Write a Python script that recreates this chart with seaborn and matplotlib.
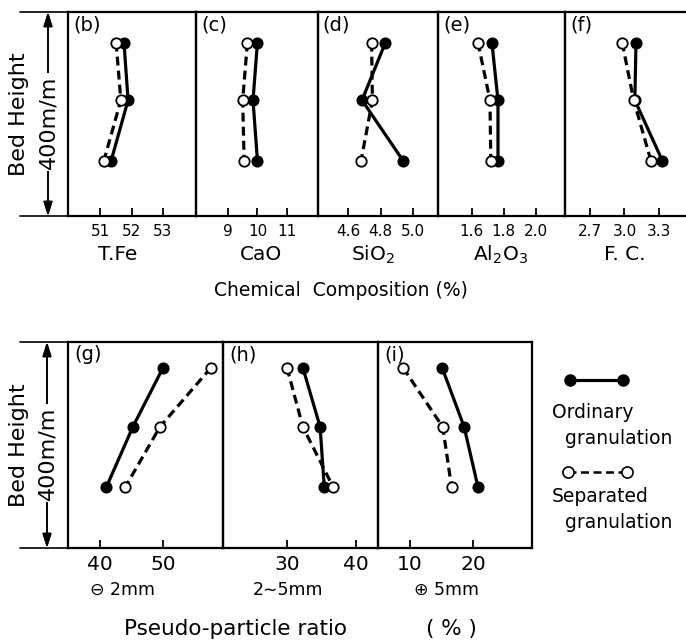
import numpy as np
import pandas as pd
import matplotlib
matplotlib.use("Agg")
import matplotlib.pyplot as plt
from matplotlib.lines import Line2D
import seaborn as sns

# ---------------- data ----------------
heights_top = [340, 227, 108]      # bed height (mm) of sampling points, upper row
heights_bot = [350, 235, 118]      # bed height (mm) of sampling points, lower row

tfe_ord = [51.76, 51.89, 51.35]
tfe_sep = [51.51, 51.66, 51.12]
cao_ord = [10.0, 9.85, 10.0]
cao_sep = [9.66, 9.50, 9.55]
sio2_ord = [4.83, 4.686, 4.94]
sio2_sep = [4.745, 4.75, 4.68]
al2o3_ord = [1.727, 1.765, 1.765]
al2o3_sep = [1.64, 1.715, 1.72]
fc_ord = [3.10, 3.09, 3.33]
fc_sep = [2.98, 3.08, 3.23]

m2_ord = [50.0, 45.2, 41.0]
m2_sep = [57.6, 49.5, 44.0]
m25_ord = [32.3, 34.8, 35.4]
m25_sep = [30.0, 32.3, 36.7]
p5_ord = [15.1, 18.6, 20.8]
p5_sep = [8.9, 15.2, 16.6]

top_letters = ["(b)", "(c)", "(d)", "(e)", "(f)"]
top_names = ["T.Fe", "CaO", "SiO$_2$", "Al$_2$O$_3$", "F. C."]
top_ticks = [[51, 52, 53], [9, 10, 11], [4.6, 4.8, 5.0], [1.6, 1.8, 2.0], [2.7, 3.0, 3.3]]
top_ticklabels = [["51", "52", "53"], ["9", "10", "11"], ["4.6", "4.8", "5.0"],
                  ["1.6", "1.8", "2.0"], ["2.7", "3.0", "3.3"]]
bot_letters = ["(g)", "(h)", "(i)"]
bot_names = ["⊖ 2mm", "2∼5mm", "⊕ 5mm"]
bot_ticks = [[40, 50], [30, 40], [10, 20]]
bot_ticklabels = [["40", "50"], ["30", "40"], ["10", "20"]]

top_ord = [tfe_ord, cao_ord, sio2_ord, al2o3_ord, fc_ord]
top_sep = [tfe_sep, cao_sep, sio2_sep, al2o3_sep, fc_sep]
bot_ord = [m2_ord, m25_ord, p5_ord]
bot_sep = [m2_sep, m25_sep, p5_sep]

# ---------------- style ----------------
sns.set_theme(style="white")
plt.rcParams["font.family"] = ["DejaVu Sans"]
plt.rcParams["mathtext.fontset"] = "dejavusans"
plt.rcParams["text.color"] = "black"
plt.rcParams["axes.labelcolor"] = "black"
plt.rcParams["xtick.color"] = "black"
plt.rcParams["ytick.color"] = "black"

W, H = 686, 644
fig = plt.figure(figsize=(W / 100, H / 100), dpi=100)
fig.patch.set_facecolor("white")


def fx(px):
    return px / W


def fy(py):
    return 1 - py / H


def make_ax(L, R, T, B):
    return fig.add_axes([fx(L), fy(B), fx(R) - fx(L), (B - T) / H])


top_edges = [68, 196, 318, 438, 565, 688]
top_xlims = [(49.98, 54.05), (7.92, 12.05), (4.415, 5.154), (1.39, 2.184), (2.483, 3.552)]
bot_edges = [68, 223, 378, 532]
bot_xlims = [(34.92, 59.52), (20.72, 43.19), (4.92, 29.37)]


def draw_panel(ax, xo, xs, hts, xlim, ticks, ticklabels, letter, tick_fs, pad):
    df_o = pd.DataFrame({"val": xo, "h": hts})
    df_s = pd.DataFrame({"val": xs, "h": hts})
    sns.lineplot(data=df_o, x="val", y="h", sort=False, estimator=None, ax=ax,
                 color="black", lw=2.3, marker="o", markersize=7.5,
                 markerfacecolor="black", markeredgecolor="black", markeredgewidth=1.2)
    sns.lineplot(data=df_s, x="val", y="h", sort=False, estimator=None, ax=ax,
                 color="black", lw=2.3, marker="o", markersize=7.5,
                 markerfacecolor="white", markeredgecolor="black", markeredgewidth=1.3)
    ax.lines[-1].set_dashes([2.8, 1.6])
    ax.set_xlim(*xlim)
    ax.set_ylim(0, 400)
    ax.set_xlabel("")
    ax.set_ylabel("")
    ax.set_yticks([])
    ax.set_xticks(ticks)
    ax.set_xticklabels(ticklabels)
    ax.tick_params(axis="x", direction="in", length=6, width=1.3, pad=pad,
                   labelsize=tick_fs, colors="black", bottom=True)
    for s in ax.spines.values():
        s.set_linewidth(1.6)
        s.set_color("black")
    ax.text(0.04, 0.985, letter, transform=ax.transAxes, ha="left", va="top",
            fontsize=14, color="black")
    ax.set_facecolor("none")


# top row
for k in range(5):
    ax = make_ax(top_edges[k], top_edges[k + 1], 12, 216)
    draw_panel(ax, top_ord[k], top_sep[k], heights_top, top_xlims[k],
               top_ticks[k], top_ticklabels[k], top_letters[k], 11, 6)

# bottom row
for k in range(3):
    ax = make_ax(bot_edges[k], bot_edges[k + 1], 342, 548)
    draw_panel(ax, bot_ord[k], bot_sep[k], heights_bot, bot_xlims[k],
               bot_ticks[k], bot_ticklabels[k], bot_letters[k], 14.5, 5)

# sub labels
top_name_x = [118, 261, 373, 500, 625]
for name, x in zip(top_names, top_name_x):
    fig.text(fx(x), fy(255), name, ha="center", va="center", fontsize=14.5, color="black")
fig.text(fx(341), fy(291), "Chemical  Composition (%)", ha="center", va="center",
         fontsize=13.5, color="black")

bot_name_x = [123, 288, 446]
for name, x in zip(bot_names, bot_name_x):
    fig.text(fx(x), fy(590), name, ha="center", va="center", fontsize=12.5, color="black")
fig.text(fx(236), fy(629), "Pseudo-particle ratio", ha="center", va="center",
         fontsize=15.5, color="black")
fig.text(fx(451), fy(629), "( % )", ha="center", va="center", fontsize=15.5, color="black")

# bed-height dimension markers
for (T, B, xa) in [(12, 216, 48), (342, 548, 47)]:
    for yy in (T, B):
        fig.add_artist(Line2D([fx(20), fx(68)], [fy(yy), fy(yy)], color="black", lw=1.2))
    fig.add_artist(plt.annotate("", xy=(fx(xa), fy(T)), xytext=(fx(xa), fy(B)),
                                xycoords="figure fraction", textcoords="figure fraction",
                                arrowprops=dict(arrowstyle="<|-|>,head_length=0.7,head_width=0.22",
                                                color="black", lw=1.2, shrinkA=0, shrinkB=0)))
    mid = (T + B) / 2
    fig.text(fx(xa), fy(mid + 8), "400m/m", rotation=90, ha="center", va="center",
             fontsize=16, color="black",
             bbox=dict(facecolor="white", edgecolor="none", pad=1.5))
    fig.text(fx(19), fy(mid), "Bed Height", rotation=90, ha="center", va="center",
             fontsize=16, color="black")

# legend (drawn as key glyphs beside the lower panels)
fig.add_artist(Line2D([fx(570), fx(623)], [fy(380), fy(380)], color="black", lw=2.3,
                      marker="o", markersize=8, markerfacecolor="black", markeredgecolor="black"))
fig.add_artist(Line2D([fx(568), fx(627)], [fy(472), fy(472)], color="black", lw=1.8,
                      dashes=[3.2, 1.8], marker="o", markersize=8,
                      markerfacecolor="white", markeredgecolor="black", markeredgewidth=1.2))
fig.text(fx(552), fy(413), "Ordinary", ha="left", va="center", fontsize=13.5, color="black")
fig.text(fx(565), fy(438), "granulation", ha="left", va="center", fontsize=13.5, color="black")
fig.text(fx(552), fy(497), "Separated", ha="left", va="center", fontsize=13.5, color="black")
fig.text(fx(565), fy(523), "granulation", ha="left", va="center", fontsize=13.5, color="black")

fig.savefig("out.png", dpi=100, facecolor="white")
